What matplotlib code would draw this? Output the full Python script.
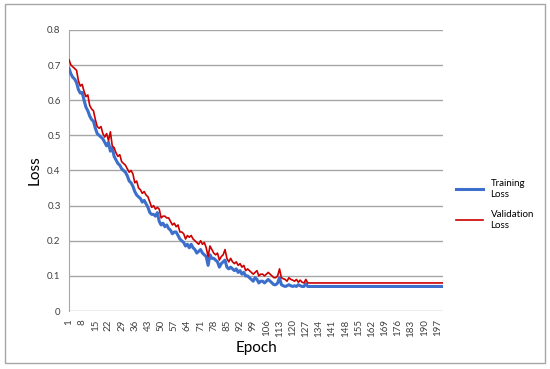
import matplotlib
matplotlib.use('Agg')
import matplotlib.pyplot as plt
from matplotlib.patches import Rectangle

plt.rcParams['font.family'] = ['Lato', 'DejaVu Sans']

epochs = list(range(1, 201))

training_loss = [
    0.690, 0.675, 0.665, 0.660, 0.650, 0.630, 0.620, 0.622, 0.600, 0.580,
    0.570, 0.555, 0.545, 0.540, 0.520, 0.505, 0.500, 0.495, 0.490, 0.480,
    0.470, 0.480, 0.455, 0.465, 0.440, 0.430, 0.420, 0.415, 0.405, 0.400,
    0.395, 0.385, 0.370, 0.365, 0.355, 0.340, 0.330, 0.325, 0.320, 0.310,
    0.315, 0.305, 0.295, 0.280, 0.275, 0.275, 0.270, 0.280, 0.255, 0.245,
    0.250, 0.240, 0.245, 0.235, 0.230, 0.220, 0.225, 0.225, 0.215, 0.205,
    0.200, 0.195, 0.185, 0.190, 0.180, 0.190, 0.180, 0.175, 0.165, 0.170,
    0.175, 0.165, 0.160, 0.155, 0.130, 0.160, 0.150, 0.150, 0.145, 0.140,
    0.125, 0.135, 0.140, 0.145, 0.125, 0.120, 0.125, 0.120, 0.115, 0.120,
    0.110, 0.115, 0.105, 0.110, 0.100, 0.100, 0.095, 0.090, 0.085, 0.095,
    0.090, 0.080, 0.085, 0.085, 0.080, 0.085, 0.090, 0.085, 0.080, 0.075,
    0.075, 0.080, 0.095, 0.075, 0.072, 0.070, 0.072, 0.075, 0.072, 0.070,
    0.072, 0.070, 0.075, 0.072, 0.070, 0.070, 0.078, 0.070, 0.070, 0.070,
    0.070, 0.070, 0.070, 0.070, 0.070, 0.070, 0.070, 0.070, 0.070, 0.070,
    0.070, 0.070, 0.070, 0.070, 0.070, 0.070, 0.070, 0.070, 0.070, 0.070,
    0.070, 0.070, 0.070, 0.070, 0.070, 0.070, 0.070, 0.070, 0.070, 0.070,
    0.070, 0.070, 0.070, 0.070, 0.070, 0.070, 0.070, 0.070, 0.070, 0.070,
    0.070, 0.070, 0.070, 0.070, 0.070, 0.070, 0.070, 0.070, 0.070, 0.070,
    0.070, 0.070, 0.070, 0.070, 0.070, 0.070, 0.070, 0.070, 0.070, 0.070,
    0.070, 0.070, 0.070, 0.070, 0.070, 0.070, 0.070, 0.070, 0.070, 0.070,
]

validation_loss = [
    0.715, 0.700, 0.695, 0.690, 0.685, 0.655, 0.640, 0.645, 0.625, 0.610,
    0.615, 0.585, 0.575, 0.570, 0.545, 0.525, 0.520, 0.525, 0.505, 0.495,
    0.505, 0.485, 0.510, 0.470, 0.465, 0.450, 0.440, 0.445, 0.425, 0.420,
    0.415, 0.405, 0.395, 0.400, 0.390, 0.365, 0.370, 0.350, 0.345, 0.335,
    0.340, 0.330, 0.325, 0.310, 0.295, 0.300, 0.290, 0.295, 0.290, 0.265,
    0.270, 0.270, 0.265, 0.265, 0.255, 0.245, 0.250, 0.240, 0.245, 0.225,
    0.225, 0.220, 0.205, 0.215, 0.210, 0.215, 0.205, 0.200, 0.195, 0.190,
    0.200, 0.190, 0.195, 0.180, 0.155, 0.185, 0.175, 0.165, 0.160, 0.165,
    0.145, 0.155, 0.160, 0.175, 0.150, 0.140, 0.150, 0.140, 0.135, 0.140,
    0.130, 0.135, 0.125, 0.130, 0.115, 0.120, 0.115, 0.110, 0.105, 0.110,
    0.115, 0.100, 0.105, 0.105, 0.100, 0.105, 0.110, 0.105, 0.100, 0.095,
    0.095, 0.100, 0.120, 0.095, 0.092, 0.090, 0.085, 0.095, 0.090, 0.088,
    0.085, 0.090, 0.082, 0.088, 0.082, 0.080, 0.090, 0.080, 0.080, 0.080,
    0.080, 0.080, 0.080, 0.080, 0.080, 0.080, 0.080, 0.080, 0.080, 0.080,
    0.080, 0.080, 0.080, 0.080, 0.080, 0.080, 0.080, 0.080, 0.080, 0.080,
    0.080, 0.080, 0.080, 0.080, 0.080, 0.080, 0.080, 0.080, 0.080, 0.080,
    0.080, 0.080, 0.080, 0.080, 0.080, 0.080, 0.080, 0.080, 0.080, 0.080,
    0.080, 0.080, 0.080, 0.080, 0.080, 0.080, 0.080, 0.080, 0.080, 0.080,
    0.080, 0.080, 0.080, 0.080, 0.080, 0.080, 0.080, 0.080, 0.080, 0.080,
    0.080, 0.080, 0.080, 0.080, 0.080, 0.080, 0.080, 0.080, 0.080, 0.080,
]

x_ticks = list(range(1, 201, 7))
y_ticks = [0, 0.1, 0.2, 0.3, 0.4, 0.5, 0.6, 0.7, 0.8]

fig = plt.figure(figsize=(5.5, 3.69), dpi=100)
fig.patches.append(Rectangle((0.009, 0.016), 0.982, 0.972, transform=fig.transFigure,
                             fill=False, edgecolor='#a6a6a6', linewidth=1))

ax = fig.add_axes([0.1255, 0.157, 0.68, 0.762])

ax.plot(epochs, training_loss, color='#3c6fcc', linewidth=2.2, label='Training\nLoss', zorder=3)
ax.plot(epochs, validation_loss, color='#cc0000', linewidth=1.2, label='Validation\nLoss', zorder=4)

ax.set_xlim(1, 200)
ax.set_ylim(0, 0.8)
ax.set_yticks(y_ticks)
ax.set_yticklabels(['0', '0.1', '0.2', '0.3', '0.4', '0.5', '0.6', '0.7', '0.8'], fontsize=7)
ax.set_xticks(x_ticks)
ax.set_xticklabels([str(t) for t in x_ticks], rotation=90, fontsize=7)
ax.tick_params(length=0, pad=6, colors='#404040')

ax.grid(axis='y', color='#a6a6a6', linewidth=1)
ax.set_axisbelow(True)
for side in ['top', 'right', 'bottom']:
    ax.spines[side].set_visible(False)
ax.spines['left'].set_color('#a6a6a6')

ax.set_xlabel('Epoch', fontsize=11, labelpad=3)
ax.set_ylabel('Loss', fontsize=11, labelpad=4)

ax.legend(loc='upper left', bbox_to_anchor=(1.01, 0.5), frameon=False, fontsize=7,
          handlelength=2.8, labelspacing=1.2)

fig.savefig('out.png', dpi=100)
